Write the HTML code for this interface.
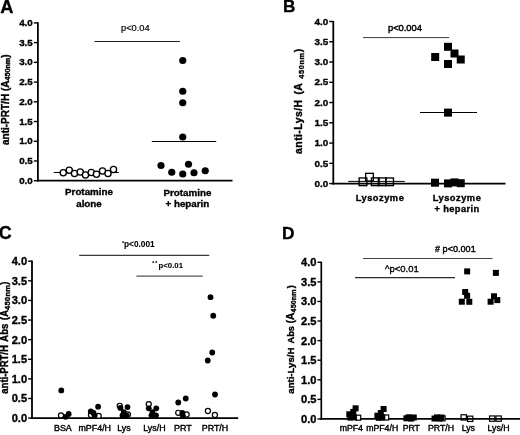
<!DOCTYPE html>
<html><head><meta charset="utf-8"><title>Figure</title>
<style>
html,body{margin:0;padding:0;background:#fff;}
body{width:520px;height:435px;overflow:hidden;font-family:"Liberation Sans",sans-serif;}
svg{display:block;filter:grayscale(1);font-family:"Liberation Sans",sans-serif;}
text{fill:#000;}
</style></head><body>
<svg width="520" height="435" viewBox="0 0 520 435">
<rect width="520" height="435" fill="#fff"/>
<text x="0.3" y="12.8" font-size="18.3" font-weight="bold" stroke="#000" stroke-width="0.35" text-anchor="start" >A</text>
<line x1="37.9" y1="22.299999999999997" x2="37.9" y2="181.6" stroke="#000" stroke-width="1.8"/>
<line x1="37.0" y1="180.7" x2="232.5" y2="180.7" stroke="#000" stroke-width="1.8"/>
<line x1="33.8" y1="180.7" x2="37.9" y2="180.7" stroke="#000" stroke-width="1.4"/>
<text x="32.8" y="183.7" font-size="9.8" font-weight="bold" stroke="#000" stroke-width="0.35" text-anchor="end" >0.0</text>
<line x1="33.8" y1="160.975" x2="37.9" y2="160.975" stroke="#000" stroke-width="1.4"/>
<text x="32.8" y="163.97" font-size="9.8" font-weight="bold" stroke="#000" stroke-width="0.35" text-anchor="end" >0.5</text>
<line x1="33.8" y1="141.25" x2="37.9" y2="141.25" stroke="#000" stroke-width="1.4"/>
<text x="32.8" y="144.25" font-size="9.8" font-weight="bold" stroke="#000" stroke-width="0.35" text-anchor="end" >1.0</text>
<line x1="33.8" y1="121.52499999999999" x2="37.9" y2="121.52499999999999" stroke="#000" stroke-width="1.4"/>
<text x="32.8" y="124.52" font-size="9.8" font-weight="bold" stroke="#000" stroke-width="0.35" text-anchor="end" >1.5</text>
<line x1="33.8" y1="101.8" x2="37.9" y2="101.8" stroke="#000" stroke-width="1.4"/>
<text x="32.8" y="104.8" font-size="9.8" font-weight="bold" stroke="#000" stroke-width="0.35" text-anchor="end" >2.0</text>
<line x1="33.8" y1="82.075" x2="37.9" y2="82.075" stroke="#000" stroke-width="1.4"/>
<text x="32.8" y="85.08" font-size="9.8" font-weight="bold" stroke="#000" stroke-width="0.35" text-anchor="end" >2.5</text>
<line x1="33.8" y1="62.349999999999994" x2="37.9" y2="62.349999999999994" stroke="#000" stroke-width="1.4"/>
<text x="32.8" y="65.35" font-size="9.8" font-weight="bold" stroke="#000" stroke-width="0.35" text-anchor="end" >3.0</text>
<line x1="33.8" y1="42.625" x2="37.9" y2="42.625" stroke="#000" stroke-width="1.4"/>
<text x="32.8" y="45.62" font-size="9.8" font-weight="bold" stroke="#000" stroke-width="0.35" text-anchor="end" >3.5</text>
<line x1="33.8" y1="22.900000000000006" x2="37.9" y2="22.900000000000006" stroke="#000" stroke-width="1.4"/>
<text x="32.8" y="25.9" font-size="9.8" font-weight="bold" stroke="#000" stroke-width="0.35" text-anchor="end" >4.0</text>
<text transform="translate(8.8,145.0) rotate(-90) scale(1,1)" font-size="10" font-weight="bold" stroke="#000" stroke-width="0.35" text-anchor="start" >anti-PRT/H (A<tspan font-size="7.2" dy="1.5" dx="0">450nm</tspan><tspan dy="-1.5" dx="0">)</tspan></text>
<text x="121" y="31.4" font-size="9.3" stroke="#000" stroke-width="0.2" text-anchor="start" >p&lt;0.04</text>
<line x1="94.5" y1="41.5" x2="180" y2="41.5" stroke="#222" stroke-width="1.0"/>
<line x1="53.8" y1="172.5" x2="118.8" y2="172.5" stroke="#000" stroke-width="1.0"/>
<circle cx="63.25" cy="172.75" r="3.1" fill="#fff" stroke="#000" stroke-width="1.3"/>
<circle cx="69.25" cy="170.25" r="3.1" fill="#fff" stroke="#000" stroke-width="1.3"/>
<circle cx="74.5" cy="173.5" r="3.1" fill="#fff" stroke="#000" stroke-width="1.3"/>
<circle cx="80.25" cy="172" r="3.1" fill="#fff" stroke="#000" stroke-width="1.3"/>
<circle cx="85.5" cy="175" r="3.1" fill="#fff" stroke="#000" stroke-width="1.3"/>
<circle cx="91.25" cy="172.5" r="3.1" fill="#fff" stroke="#000" stroke-width="1.3"/>
<circle cx="96.5" cy="174.25" r="3.1" fill="#fff" stroke="#000" stroke-width="1.3"/>
<circle cx="102.5" cy="171" r="3.1" fill="#fff" stroke="#000" stroke-width="1.3"/>
<circle cx="108" cy="173.5" r="3.1" fill="#fff" stroke="#000" stroke-width="1.3"/>
<circle cx="113.5" cy="169.5" r="3.1" fill="#fff" stroke="#000" stroke-width="1.3"/>
<line x1="151.8" y1="141.5" x2="216.2" y2="141.5" stroke="#000" stroke-width="1.1"/>
<circle cx="182.75" cy="60.5" r="3.6" fill="#000"/>
<circle cx="182.75" cy="91.25" r="3.6" fill="#000"/>
<circle cx="182.75" cy="102.75" r="3.6" fill="#000"/>
<circle cx="182.75" cy="137" r="3.6" fill="#000"/>
<circle cx="161" cy="165.5" r="3.6" fill="#000"/>
<circle cx="171.75" cy="172.25" r="3.6" fill="#000"/>
<circle cx="182.75" cy="174" r="3.6" fill="#000"/>
<circle cx="188.5" cy="164.25" r="3.6" fill="#000"/>
<circle cx="194" cy="172.75" r="3.6" fill="#000"/>
<circle cx="205.25" cy="170.75" r="3.6" fill="#000"/>
<text x="89" y="194.9" font-size="9.8" font-weight="bold" stroke="#000" stroke-width="0.35" text-anchor="middle" >Protamine</text>
<text x="89" y="206.9" font-size="9.8" font-weight="bold" stroke="#000" stroke-width="0.35" text-anchor="middle" >alone</text>
<text x="187.4" y="195.8" font-size="9.8" font-weight="bold" stroke="#000" stroke-width="0.35" text-anchor="middle" >Protamine</text>
<text x="187.4" y="207.4" font-size="9.8" font-weight="bold" stroke="#000" stroke-width="0.35" text-anchor="middle" >+ heparin</text>
<text x="283.1" y="11.9" font-size="17.2" font-weight="bold" stroke="#000" stroke-width="0.35" text-anchor="start" >B</text>
<line x1="333.3" y1="20.9" x2="333.3" y2="184.5" stroke="#000" stroke-width="1.8"/>
<line x1="332.40000000000003" y1="183.6" x2="505.5" y2="183.6" stroke="#000" stroke-width="1.8"/>
<line x1="329.20000000000005" y1="183.6" x2="333.3" y2="183.6" stroke="#000" stroke-width="1.4"/>
<text x="328.20000000000005" y="186.8" font-size="9.9" font-weight="bold" stroke="#000" stroke-width="0.35" text-anchor="end" >0.0</text>
<line x1="329.20000000000005" y1="163.3375" x2="333.3" y2="163.3375" stroke="#000" stroke-width="1.4"/>
<text x="328.20000000000005" y="166.54" font-size="9.9" font-weight="bold" stroke="#000" stroke-width="0.35" text-anchor="end" >0.5</text>
<line x1="329.20000000000005" y1="143.075" x2="333.3" y2="143.075" stroke="#000" stroke-width="1.4"/>
<text x="328.20000000000005" y="146.27" font-size="9.9" font-weight="bold" stroke="#000" stroke-width="0.35" text-anchor="end" >1.0</text>
<line x1="329.20000000000005" y1="122.8125" x2="333.3" y2="122.8125" stroke="#000" stroke-width="1.4"/>
<text x="328.20000000000005" y="126.01" font-size="9.9" font-weight="bold" stroke="#000" stroke-width="0.35" text-anchor="end" >1.5</text>
<line x1="329.20000000000005" y1="102.55" x2="333.3" y2="102.55" stroke="#000" stroke-width="1.4"/>
<text x="328.20000000000005" y="105.75" font-size="9.9" font-weight="bold" stroke="#000" stroke-width="0.35" text-anchor="end" >2.0</text>
<line x1="329.20000000000005" y1="82.2875" x2="333.3" y2="82.2875" stroke="#000" stroke-width="1.4"/>
<text x="328.20000000000005" y="85.49" font-size="9.9" font-weight="bold" stroke="#000" stroke-width="0.35" text-anchor="end" >2.5</text>
<line x1="329.20000000000005" y1="62.025000000000006" x2="333.3" y2="62.025000000000006" stroke="#000" stroke-width="1.4"/>
<text x="328.20000000000005" y="65.23" font-size="9.9" font-weight="bold" stroke="#000" stroke-width="0.35" text-anchor="end" >3.0</text>
<line x1="329.20000000000005" y1="41.76249999999999" x2="333.3" y2="41.76249999999999" stroke="#000" stroke-width="1.4"/>
<text x="328.20000000000005" y="44.96" font-size="9.9" font-weight="bold" stroke="#000" stroke-width="0.35" text-anchor="end" >3.5</text>
<line x1="329.20000000000005" y1="21.5" x2="333.3" y2="21.5" stroke="#000" stroke-width="1.4"/>
<text x="328.20000000000005" y="24.7" font-size="9.9" font-weight="bold" stroke="#000" stroke-width="0.35" text-anchor="end" >4.0</text>
<text transform="translate(301.8,153.9) rotate(-90) scale(1,1)" font-size="10.5" font-weight="bold" stroke="#000" stroke-width="0.35" text-anchor="start" letter-spacing="0.4" >anti-Lys/H<tspan dx="1.6"> (A </tspan><tspan font-size="7.4" dy="1.9" dx="1.1" letter-spacing="0.6">450nm</tspan><tspan dy="-1.9" dx="0">)</tspan></text>
<text x="421.9" y="31.4" font-size="9.3" stroke="#000" stroke-width="0.45" text-anchor="end" >p&lt;0.004</text>
<line x1="363" y1="37.6" x2="449.2" y2="37.6" stroke="#222" stroke-width="0.9"/>
<line x1="348.2" y1="181.4" x2="404.8" y2="181.4" stroke="#000" stroke-width="1.0"/>
<rect x="359.15" y="177.95000000000002" width="7.7" height="7.7" fill="none" stroke="#000" stroke-width="1.35"/>
<rect x="365.65" y="173.35" width="7.7" height="7.7" fill="none" stroke="#000" stroke-width="1.35"/>
<rect x="371.45" y="177.95000000000002" width="7.7" height="7.7" fill="none" stroke="#000" stroke-width="1.35"/>
<rect x="378.34999999999997" y="177.95000000000002" width="7.7" height="7.7" fill="none" stroke="#000" stroke-width="1.35"/>
<rect x="385.75" y="177.95000000000002" width="7.7" height="7.7" fill="none" stroke="#000" stroke-width="1.35"/>
<line x1="420" y1="112.5" x2="477" y2="112.5" stroke="#000" stroke-width="1.0"/>
<rect x="444.0" y="42.8" width="8" height="8" fill="#000"/>
<rect x="450.5" y="49.5" width="8" height="8" fill="#000"/>
<rect x="456.75" y="55.5" width="8" height="8" fill="#000"/>
<rect x="431.2" y="53.0" width="8" height="8" fill="#000"/>
<rect x="444.0" y="60.0" width="8" height="8" fill="#000"/>
<rect x="444.0" y="108.6" width="8" height="8" fill="#000"/>
<rect x="431.0" y="178.7" width="8" height="8" fill="#000"/>
<rect x="444.0" y="179.4" width="8" height="8" fill="#000"/>
<rect x="450.5" y="178.4" width="8" height="8" fill="#000"/>
<rect x="456.75" y="179.2" width="8" height="8" fill="#000"/>
<text x="380" y="200.8" font-size="9.3" font-weight="bold" stroke="#000" stroke-width="0.35" text-anchor="middle" letter-spacing="0.5">Lysozyme</text>
<text x="457" y="200.8" font-size="9.3" font-weight="bold" stroke="#000" stroke-width="0.35" text-anchor="middle" letter-spacing="0.5">Lysozyme</text>
<text x="457" y="212" font-size="9.3" font-weight="bold" stroke="#000" stroke-width="0.35" text-anchor="middle" letter-spacing="0.4">+ heparin</text>
<text x="-1.2" y="238.6" font-size="17.9" font-weight="bold" stroke="#000" stroke-width="0.35" text-anchor="start" >C</text>
<line x1="32" y1="260.59999999999997" x2="32" y2="419.0" stroke="#000" stroke-width="1.8"/>
<line x1="31.1" y1="418.1" x2="238.2" y2="418.1" stroke="#000" stroke-width="1.8"/>
<line x1="28.1" y1="418.1" x2="32" y2="418.1" stroke="#000" stroke-width="1.4"/>
<text x="27.1" y="422.0" font-size="11.1" font-weight="bold" stroke="#000" stroke-width="0.35" text-anchor="end" >0.0</text>
<line x1="28.1" y1="398.4875" x2="32" y2="398.4875" stroke="#000" stroke-width="1.4"/>
<text x="27.1" y="402.39" font-size="11.1" font-weight="bold" stroke="#000" stroke-width="0.35" text-anchor="end" >0.5</text>
<line x1="28.1" y1="378.875" x2="32" y2="378.875" stroke="#000" stroke-width="1.4"/>
<text x="27.1" y="382.77" font-size="11.1" font-weight="bold" stroke="#000" stroke-width="0.35" text-anchor="end" >1.0</text>
<line x1="28.1" y1="359.2625" x2="32" y2="359.2625" stroke="#000" stroke-width="1.4"/>
<text x="27.1" y="363.16" font-size="11.1" font-weight="bold" stroke="#000" stroke-width="0.35" text-anchor="end" >1.5</text>
<line x1="28.1" y1="339.65" x2="32" y2="339.65" stroke="#000" stroke-width="1.4"/>
<text x="27.1" y="343.55" font-size="11.1" font-weight="bold" stroke="#000" stroke-width="0.35" text-anchor="end" >2.0</text>
<line x1="28.1" y1="320.0375" x2="32" y2="320.0375" stroke="#000" stroke-width="1.4"/>
<text x="27.1" y="323.94" font-size="11.1" font-weight="bold" stroke="#000" stroke-width="0.35" text-anchor="end" >2.5</text>
<line x1="28.1" y1="300.425" x2="32" y2="300.425" stroke="#000" stroke-width="1.4"/>
<text x="27.1" y="304.32" font-size="11.1" font-weight="bold" stroke="#000" stroke-width="0.35" text-anchor="end" >3.0</text>
<line x1="28.1" y1="280.8125" x2="32" y2="280.8125" stroke="#000" stroke-width="1.4"/>
<text x="27.1" y="284.71" font-size="11.1" font-weight="bold" stroke="#000" stroke-width="0.35" text-anchor="end" >3.5</text>
<line x1="28.1" y1="261.2" x2="32" y2="261.2" stroke="#000" stroke-width="1.4"/>
<text x="27.1" y="265.1" font-size="11.1" font-weight="bold" stroke="#000" stroke-width="0.35" text-anchor="end" >4.0</text>
<text transform="translate(7.6,393.7) rotate(-90) scale(1,1.07)" font-size="9.5" font-weight="bold" stroke="#000" stroke-width="0.35" text-anchor="start" word-spacing="1.2">anti-PRT/H Abs (A<tspan font-size="7.5" dy="2.0" dx="0" letter-spacing="0.3">450nm</tspan><tspan dy="-2.0" dx="0">)</tspan></text>
<text x="124.0" y="246.8" font-size="8.3" font-weight="bold" stroke="#000" stroke-width="0.08" text-anchor="start" >p&lt;0.001</text>
<text x="121.9" y="244.6" font-size="5" font-weight="bold" stroke="#000" stroke-width="0.1" text-anchor="start" >*</text>
<line x1="79.2" y1="255.4" x2="209.2" y2="255.4" stroke="#3a3a3a" stroke-width="1.1"/>
<text x="158.5" y="267.7" font-size="7.8" font-weight="bold" stroke="#000" stroke-width="0.08" text-anchor="start" >p&lt;0.01</text>
<text x="152.3" y="265.0" font-size="5" font-weight="bold" stroke="#000" stroke-width="0.1" text-anchor="start" letter-spacing="1.0">**</text>
<line x1="136.4" y1="276.1" x2="202.8" y2="276.1" stroke="#555" stroke-width="1.4"/>
<circle cx="61.0" cy="415.4" r="2.55" fill="#fff" stroke="#000" stroke-width="1.2"/>
<circle cx="91.0" cy="415.0" r="2.55" fill="#fff" stroke="#000" stroke-width="1.2"/>
<circle cx="98.7" cy="415.9" r="2.55" fill="#fff" stroke="#000" stroke-width="1.2"/>
<circle cx="119.75" cy="405.8" r="2.55" fill="#fff" stroke="#000" stroke-width="1.2"/>
<circle cx="127.9" cy="414.5" r="2.55" fill="#fff" stroke="#000" stroke-width="1.2"/>
<circle cx="148.75" cy="404.1" r="2.55" fill="#fff" stroke="#000" stroke-width="1.2"/>
<circle cx="178.25" cy="412.8" r="2.55" fill="#fff" stroke="#000" stroke-width="1.2"/>
<circle cx="186.6" cy="414.5" r="2.55" fill="#fff" stroke="#000" stroke-width="1.2"/>
<circle cx="207.9" cy="411.0" r="2.55" fill="#fff" stroke="#000" stroke-width="1.2"/>
<circle cx="214.9" cy="415.0" r="2.55" fill="#fff" stroke="#000" stroke-width="1.2"/>
<circle cx="61.3" cy="390.4" r="2.9" fill="#000"/>
<circle cx="65.6" cy="416.8" r="2.9" fill="#000"/>
<circle cx="68.7" cy="414.0" r="2.9" fill="#000"/>
<circle cx="90.8" cy="411.3" r="2.9" fill="#000"/>
<circle cx="98.1" cy="406.7" r="2.9" fill="#000"/>
<circle cx="94.6" cy="415.5" r="2.9" fill="#000"/>
<circle cx="93.5" cy="413.0" r="2.9" fill="#000"/>
<circle cx="120.4" cy="407.9" r="2.9" fill="#000"/>
<circle cx="127.5" cy="407.1" r="2.9" fill="#000"/>
<circle cx="123.75" cy="412.1" r="2.9" fill="#000"/>
<circle cx="122.5" cy="415.4" r="2.9" fill="#000"/>
<circle cx="126.6" cy="415.4" r="2.9" fill="#000"/>
<circle cx="148.75" cy="408.3" r="2.9" fill="#000"/>
<circle cx="156.25" cy="408.3" r="2.9" fill="#000"/>
<circle cx="152.5" cy="412.1" r="2.9" fill="#000"/>
<circle cx="151.5" cy="415.3" r="2.9" fill="#000"/>
<circle cx="156.0" cy="415.3" r="2.9" fill="#000"/>
<circle cx="178.25" cy="402.5" r="2.9" fill="#000"/>
<circle cx="185.75" cy="398.5" r="2.9" fill="#000"/>
<circle cx="182.3" cy="412.8" r="2.9" fill="#000"/>
<circle cx="182.8" cy="415.3" r="2.9" fill="#000"/>
<circle cx="212.25" cy="352.5" r="2.9" fill="#000"/>
<circle cx="207.75" cy="360.5" r="2.9" fill="#000"/>
<circle cx="215" cy="394.5" r="2.9" fill="#000"/>
<circle cx="210.5" cy="297.2" r="2.9" fill="#000"/>
<circle cx="213.25" cy="315.75" r="2.9" fill="#000"/>
<text x="62.9" y="430.6" font-size="8.9" stroke="#000" stroke-width="0.4" text-anchor="middle" >BSA</text>
<text x="94.75" y="430.6" font-size="8.9" stroke="#000" stroke-width="0.4" text-anchor="middle" >mPF4/H</text>
<text x="124" y="430.6" font-size="8.9" stroke="#000" stroke-width="0.4" text-anchor="middle" >Lys</text>
<text x="154.4" y="430.6" font-size="8.9" stroke="#000" stroke-width="0.4" text-anchor="middle" >Lys/H</text>
<text x="182.9" y="430.6" font-size="8.9" stroke="#000" stroke-width="0.4" text-anchor="middle" >PRT</text>
<text x="215" y="430.6" font-size="8.9" stroke="#000" stroke-width="0.4" text-anchor="middle" >PRT/H</text>
<text x="281.9" y="238.8" font-size="17.3" font-weight="bold" stroke="#000" stroke-width="0.35" text-anchor="start" >D</text>
<line x1="321.3" y1="261.7" x2="321.3" y2="419.8" stroke="#000" stroke-width="1.7"/>
<line x1="320.45" y1="418.95" x2="520" y2="418.95" stroke="#000" stroke-width="1.7"/>
<line x1="317.45" y1="418.95" x2="321.3" y2="418.95" stroke="#000" stroke-width="1.4"/>
<text x="316.45" y="422.85" font-size="11.1" font-weight="bold" stroke="#000" stroke-width="0.35" text-anchor="end" >0.0</text>
<line x1="317.45" y1="399.36875" x2="321.3" y2="399.36875" stroke="#000" stroke-width="1.4"/>
<text x="316.45" y="403.27" font-size="11.1" font-weight="bold" stroke="#000" stroke-width="0.35" text-anchor="end" >0.5</text>
<line x1="317.45" y1="379.7875" x2="321.3" y2="379.7875" stroke="#000" stroke-width="1.4"/>
<text x="316.45" y="383.69" font-size="11.1" font-weight="bold" stroke="#000" stroke-width="0.35" text-anchor="end" >1.0</text>
<line x1="317.45" y1="360.20625" x2="321.3" y2="360.20625" stroke="#000" stroke-width="1.4"/>
<text x="316.45" y="364.11" font-size="11.1" font-weight="bold" stroke="#000" stroke-width="0.35" text-anchor="end" >1.5</text>
<line x1="317.45" y1="340.625" x2="321.3" y2="340.625" stroke="#000" stroke-width="1.4"/>
<text x="316.45" y="344.52" font-size="11.1" font-weight="bold" stroke="#000" stroke-width="0.35" text-anchor="end" >2.0</text>
<line x1="317.45" y1="321.04375" x2="321.3" y2="321.04375" stroke="#000" stroke-width="1.4"/>
<text x="316.45" y="324.94" font-size="11.1" font-weight="bold" stroke="#000" stroke-width="0.35" text-anchor="end" >2.5</text>
<line x1="317.45" y1="301.4625" x2="321.3" y2="301.4625" stroke="#000" stroke-width="1.4"/>
<text x="316.45" y="305.36" font-size="11.1" font-weight="bold" stroke="#000" stroke-width="0.35" text-anchor="end" >3.0</text>
<line x1="317.45" y1="281.88125" x2="321.3" y2="281.88125" stroke="#000" stroke-width="1.4"/>
<text x="316.45" y="285.78" font-size="11.1" font-weight="bold" stroke="#000" stroke-width="0.35" text-anchor="end" >3.5</text>
<line x1="317.45" y1="262.3" x2="321.3" y2="262.3" stroke="#000" stroke-width="1.4"/>
<text x="316.45" y="266.2" font-size="11.1" font-weight="bold" stroke="#000" stroke-width="0.35" text-anchor="end" >4.0</text>
<text transform="translate(293.5,393.7) rotate(-90) scale(1,1.0)" font-size="9.2" font-weight="bold" stroke="#000" stroke-width="0.35" text-anchor="start" ><tspan font-size="9.6">anti-Lys/H</tspan><tspan dx="2.0"> Abs</tspan><tspan font-size="10"> (A</tspan><tspan font-size="7.0" dy="2.0" dx="0.3" letter-spacing="0.2">450nm</tspan><tspan dy="-2.0" dx="1.0">)</tspan></text>
<text x="442.6" y="251.9" font-size="9.1" stroke="#000" stroke-width="0.4" text-anchor="start" >p&lt;0.001</text>
<text x="435.0" y="251.9" font-size="9" font-weight="bold" stroke="#000" stroke-width="0.3" text-anchor="start" >#</text>
<line x1="363" y1="258.5" x2="492.5" y2="258.5" stroke="#444" stroke-width="1.0"/>
<text x="385" y="271.6" font-size="9.5" stroke="#000" stroke-width="0.35" text-anchor="start" >^p&lt;0.01</text>
<line x1="355" y1="277.6" x2="455" y2="277.6" stroke="#2a2a2a" stroke-width="1.15"/>
<rect x="355.7" y="415.2" width="5.0" height="5.0" fill="#fff" stroke="#000" stroke-width="1.2"/>
<rect x="383.7" y="415.0" width="5.0" height="5.0" fill="#fff" stroke="#000" stroke-width="1.2"/>
<rect x="440.1" y="415.8" width="5.0" height="5.0" fill="#fff" stroke="#000" stroke-width="1.2"/>
<rect x="461.05" y="414.75" width="5.3" height="5.3" fill="none" stroke="#000" stroke-width="1.2"/>
<rect x="467.55" y="416.15000000000003" width="5.3" height="5.3" fill="none" stroke="#000" stroke-width="1.2"/>
<rect x="489.55" y="415.95000000000005" width="5.3" height="5.3" fill="none" stroke="#000" stroke-width="1.2"/>
<rect x="495.95000000000005" y="415.95000000000005" width="5.3" height="5.3" fill="none" stroke="#000" stroke-width="1.2"/>
<rect x="464.15" y="268.4" width="6.0" height="6.0" fill="#000"/>
<rect x="462.2" y="289.0" width="6.0" height="6.0" fill="#000"/>
<rect x="464.1" y="292.8" width="6.0" height="6.0" fill="#000"/>
<rect x="458.8" y="298.7" width="6.0" height="6.0" fill="#000"/>
<rect x="466.3" y="298.8" width="6.0" height="6.0" fill="#000"/>
<rect x="492.9" y="269.9" width="6.0" height="6.0" fill="#000"/>
<rect x="491.0" y="293.3" width="6.0" height="6.0" fill="#000"/>
<rect x="487.6" y="298.7" width="6.0" height="6.0" fill="#000"/>
<rect x="494.3" y="297.1" width="6.0" height="6.0" fill="#000"/>
<rect x="346.3" y="411.3" width="6.0" height="6.0" fill="#000"/>
<rect x="350.3" y="408.9" width="6.0" height="6.0" fill="#000"/>
<rect x="352.6" y="405.3" width="6.0" height="6.0" fill="#000"/>
<rect x="347.3" y="414.6" width="6.0" height="6.0" fill="#000"/>
<rect x="350.9" y="414.3" width="6.0" height="6.0" fill="#000"/>
<rect x="374.4" y="412.7" width="6.0" height="6.0" fill="#000"/>
<rect x="377.8" y="410.0" width="6.0" height="6.0" fill="#000"/>
<rect x="380.6" y="406.0" width="6.0" height="6.0" fill="#000"/>
<rect x="375.8" y="414.8" width="6.0" height="6.0" fill="#000"/>
<rect x="379.3" y="414.5" width="6.0" height="6.0" fill="#000"/>
<rect x="403.4" y="415.3" width="6.0" height="6.0" fill="#000"/>
<rect x="405.7" y="414.3" width="6.0" height="6.0" fill="#000"/>
<rect x="408.2" y="415.6" width="6.0" height="6.0" fill="#000"/>
<rect x="410.8" y="414.5" width="6.0" height="6.0" fill="#000"/>
<rect x="431.5" y="415.5" width="6.0" height="6.0" fill="#000"/>
<rect x="434.0" y="414.4" width="6.0" height="6.0" fill="#000"/>
<rect x="436.5" y="415.6" width="6.0" height="6.0" fill="#000"/>
<rect x="438.3" y="414.5" width="6.0" height="6.0" fill="#000"/>
<text x="351.3" y="431.2" font-size="8.75" stroke="#000" stroke-width="0.4" text-anchor="middle" >mPF4</text>
<text x="382.2" y="431.2" font-size="8.75" stroke="#000" stroke-width="0.4" text-anchor="middle" >mPF4/H</text>
<text x="411.3" y="431.2" font-size="8.75" stroke="#000" stroke-width="0.4" text-anchor="middle" >PRT</text>
<text x="441" y="431.2" font-size="8.75" stroke="#000" stroke-width="0.4" text-anchor="middle" >PRT/H</text>
<text x="468.3" y="431.2" font-size="8.75" stroke="#000" stroke-width="0.4" text-anchor="middle" >Lys</text>
<text x="498.6" y="431.2" font-size="8.75" stroke="#000" stroke-width="0.4" text-anchor="middle" >Lys/H</text>
</svg>
</body></html>
